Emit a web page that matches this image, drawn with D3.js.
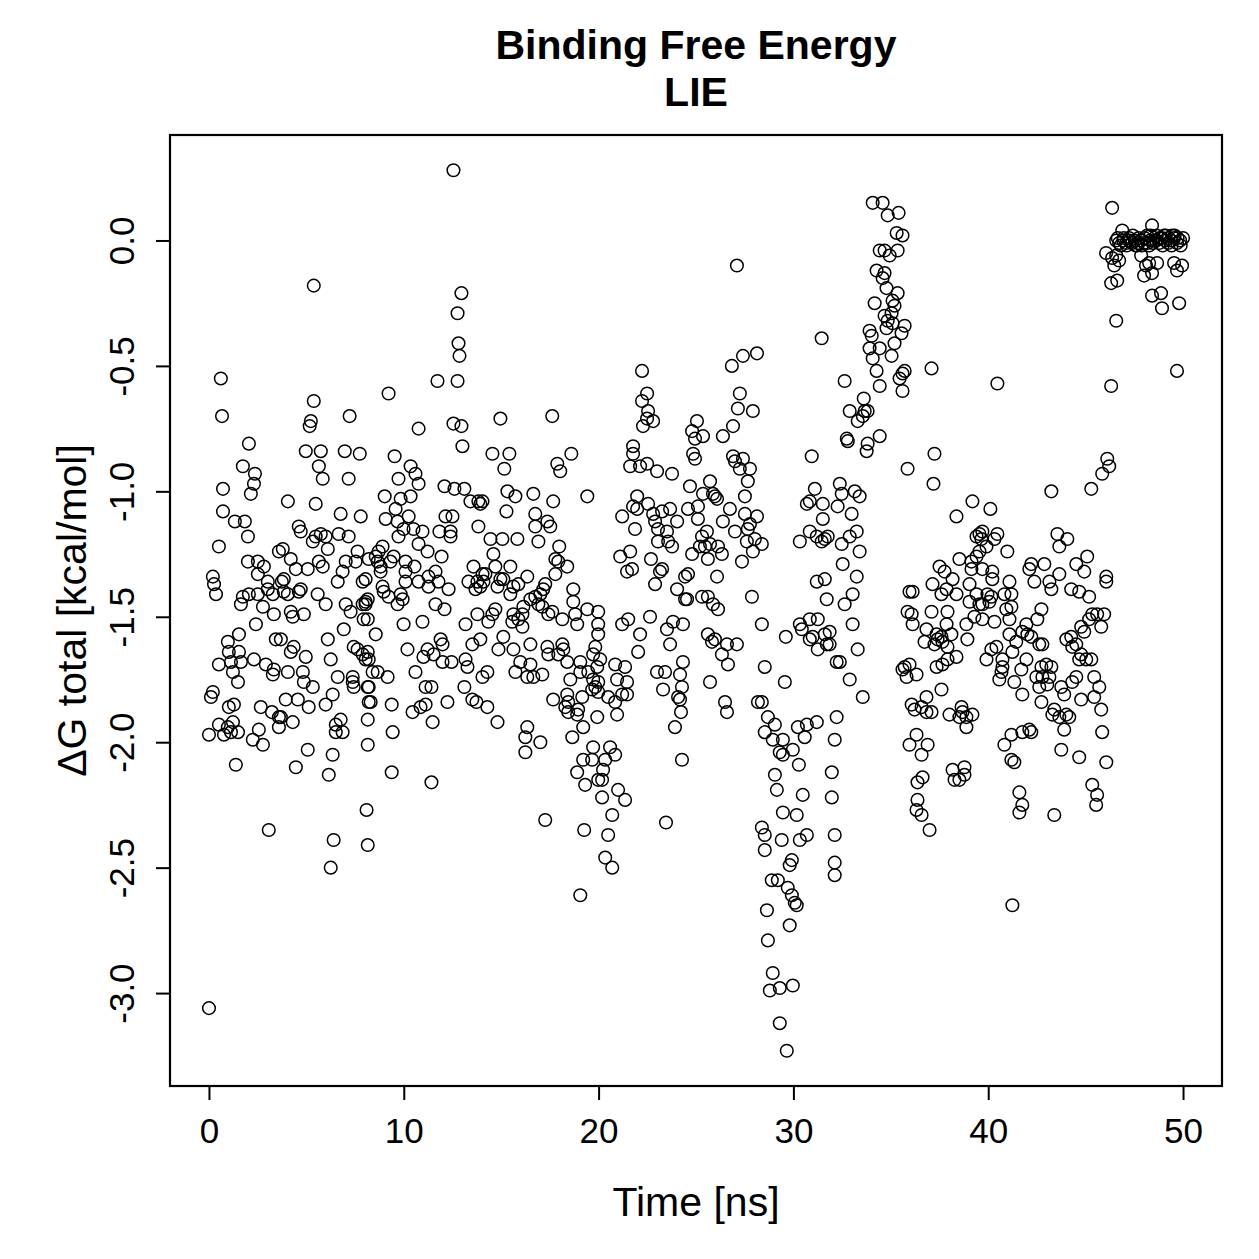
<!DOCTYPE html>
<html>
<head>
<meta charset="utf-8">
<script src="https://cdn.jsdelivr.net/npm/d3@7"></script>
<style>
  body { margin: 0; background: #fff; }
  text { font-family: "Liberation Sans", Arial, Helvetica, sans-serif; fill: #000; }
</style>
</head>
<body>
<svg id="chart" width="1259" height="1259"></svg>
<script>
const titleLines = ['Binding Free Energy', 'LIE'];
const xLabel = 'Time [ns]';
const yLabel = 'ΔG total [kcal/mol]';
const xTicks = [0, 10, 20, 30, 40, 50];
const yTicks = [0, -0.5, -1, -1.5, -2, -2.5, -3];

// [time ns, dG kcal/mol], grouped by time window

// ~0-4 ns
const seg0 = [[0.00,-3.06],[0.00,-1.97],[0.10,-1.82],[0.20,-1.80],[0.20,-1.34],[0.26,-1.37],[0.36,-1.41],[0.51,-1.22],[0.51,-1.69],[0.51,-1.93],[0.61,-0.55],[0.67,-0.70],[0.72,-0.99],[0.72,-1.08],[0.77,-1.97],[0.97,-1.60],[0.97,-1.94],[1.02,-1.64],[1.02,-1.86],[1.13,-1.68],[1.13,-1.96],[1.23,-1.72],[1.23,-1.92],[1.28,-1.85],[1.33,-1.12],[1.38,-2.09],[1.49,-1.76],[1.49,-1.96],[1.54,-1.57],[1.54,-1.64],[1.64,-1.45],[1.64,-1.68],[1.74,-0.90],[1.74,-1.42],[1.84,-1.12],[2.00,-1.18],[2.00,-1.28],[2.05,-0.81],[2.05,-1.41],[2.15,-1.01],[2.25,-1.99],[2.31,-0.97],[2.31,-1.67],[2.36,-0.93],[2.41,-1.53],[2.51,-1.28],[2.51,-1.33],[2.51,-1.41],[2.56,-1.95],[2.66,-1.86],[2.77,-1.46],[2.77,-2.01],[2.82,-1.30],[2.92,-1.69],[3.02,-1.36],[3.02,-1.39],[3.07,-2.35],[3.23,-1.88],[3.28,-1.41],[3.28,-1.73],[3.33,-1.49],[3.33,-1.71],[3.43,-1.59],[3.59,-1.24],[3.59,-1.90],[3.59,-1.94],[3.74,-1.36]];

// ~4-8 ns
const seg1 = [[5.38,-0.18],[5.38,-0.64],[5.23,-0.72],[5.17,-0.74],[7.22,-0.70],[4.97,-0.84],[5.74,-0.84],[6.97,-0.84],[7.74,-0.85],[5.64,-0.90],[5.84,-0.95],[7.17,-0.95],[4.05,-1.04],[5.48,-1.05],[6.76,-1.09],[7.79,-1.10],[4.61,-1.14],[4.71,-1.16],[5.48,-1.18],[5.74,-1.17],[5.99,-1.18],[5.33,-1.20],[6.66,-1.17],[7.17,-1.18],[6.10,-1.23],[3.79,-1.23],[4.20,-1.27],[5.64,-1.28],[5.84,-1.30],[4.46,-1.31],[5.07,-1.31],[7.63,-1.24],[7.53,-1.28],[6.86,-1.32],[7.02,-1.28],[8.20,-1.27],[6.61,-1.36],[7.89,-1.36],[3.84,-1.35],[3.84,-1.40],[4.05,-1.41],[4.71,-1.39],[4.61,-1.40],[5.58,-1.41],[5.99,-1.45],[7.02,-1.45],[7.27,-1.48],[7.89,-1.45],[8.04,-1.44],[4.20,-1.48],[4.30,-1.50],[4.87,-1.49],[7.94,-1.51],[6.92,-1.55],[6.10,-1.59],[3.69,-1.59],[4.35,-1.62],[4.20,-1.64],[7.43,-1.62],[7.63,-1.63],[4.97,-1.66],[6.25,-1.67],[7.89,-1.65],[8.04,-1.67],[4.82,-1.72],[4.05,-1.72],[6.61,-1.74],[7.38,-1.74],[7.38,-1.76],[7.43,-1.78],[4.87,-1.76],[5.33,-1.78],[8.15,-1.78],[3.94,-1.83],[4.56,-1.83],[5.12,-1.86],[5.99,-1.85],[6.35,-1.81],[8.20,-1.84],[3.69,-1.90],[4.30,-1.92],[6.51,-1.93],[6.76,-1.91],[6.51,-1.96],[6.86,-1.96],[8.15,-1.91],[5.07,-2.03],[6.35,-2.05],[4.46,-2.10],[6.15,-2.13],[8.15,-2.01],[8.09,-2.27],[6.40,-2.39],[8.15,-2.41],[6.25,-2.50]];

// ~8-14 ns
const seg2 = [[12.55,0.28],[12.96,-0.21],[12.76,-0.29],[12.81,-0.41],[12.86,-0.46],[9.22,-0.61],[11.73,-0.56],[12.76,-0.56],[10.76,-0.75],[12.55,-0.73],[12.96,-0.74],[13.01,-0.82],[9.53,-0.86],[10.35,-0.90],[10.60,-0.93],[10.76,-0.97],[9.73,-0.95],[12.09,-0.98],[12.60,-0.99],[13.11,-0.99],[9.02,-1.02],[9.84,-1.03],[9.58,-1.07],[10.35,-1.02],[13.42,-1.04],[13.83,-1.04],[13.93,-1.05],[9.07,-1.11],[9.68,-1.12],[9.99,-1.15],[9.73,-1.18],[10.25,-1.10],[10.50,-1.15],[10.96,-1.16],[12.14,-1.10],[12.50,-1.10],[11.83,-1.16],[12.40,-1.16],[12.40,-1.18],[13.83,-1.14],[8.91,-1.22],[8.71,-1.24],[8.56,-1.26],[8.66,-1.28],[8.81,-1.30],[9.32,-1.28],[10.76,-1.21],[11.22,-1.24],[11.94,-1.26],[9.48,-1.26],[10.09,-1.28],[10.55,-1.30],[10.09,-1.32],[8.81,-1.32],[13.58,-1.30],[14.04,-1.33],[11.63,-1.32],[11.27,-1.34],[10.76,-1.36],[10.09,-1.36],[11.27,-1.38],[11.78,-1.36],[12.30,-1.39],[13.32,-1.36],[13.78,-1.36],[13.68,-1.39],[13.93,-1.38],[8.04,-1.35],[8.91,-1.38],[8.97,-1.40],[9.22,-1.42],[9.68,-1.45],[9.84,-1.41],[9.94,-1.43],[8.15,-1.43],[8.04,-1.45],[11.63,-1.45],[12.09,-1.47],[13.78,-1.49],[9.99,-1.53],[10.96,-1.52],[8.15,-1.51],[13.17,-1.53],[8.56,-1.57],[11.89,-1.59],[11.99,-1.61],[13.52,-1.61],[13.93,-1.59],[10.19,-1.63],[11.22,-1.63],[11.01,-1.66],[11.53,-1.65],[11.99,-1.68],[12.45,-1.68],[13.17,-1.67],[13.27,-1.70],[8.15,-1.64],[8.20,-1.67],[8.40,-1.72],[8.66,-1.72],[9.17,-1.74],[10.60,-1.72],[14.04,-1.74],[8.20,-1.78],[11.12,-1.78],[11.42,-1.78],[13.11,-1.78],[13.52,-1.83],[13.73,-1.84],[8.30,-1.84],[9.38,-1.85],[10.45,-1.88],[10.86,-1.86],[11.12,-1.85],[12.24,-1.84],[11.48,-1.92],[9.43,-1.96],[9.38,-2.12],[11.42,-2.16]];

// ~14-20 ns
const seg3 = [[14.96,-0.71],[17.62,-0.70],[14.55,-0.85],[15.42,-0.85],[15.16,-0.91],[17.88,-0.89],[18.03,-0.92],[18.60,-0.85],[15.32,-1.00],[15.73,-1.02],[16.65,-1.01],[17.67,-1.04],[19.42,-1.02],[14.04,-1.04],[15.27,-1.08],[16.75,-1.09],[16.75,-1.14],[16.91,-1.20],[17.37,-1.12],[17.52,-1.14],[14.45,-1.19],[15.06,-1.19],[15.83,-1.19],[17.98,-1.22],[14.60,-1.25],[14.70,-1.30],[17.78,-1.27],[17.93,-1.28],[18.39,-1.30],[17.78,-1.33],[15.47,-1.30],[14.19,-1.33],[14.09,-1.36],[14.96,-1.35],[15.11,-1.35],[14.81,-1.38],[15.63,-1.38],[15.88,-1.37],[16.34,-1.34],[15.47,-1.41],[17.26,-1.37],[17.16,-1.39],[17.01,-1.41],[16.75,-1.42],[16.50,-1.43],[18.70,-1.39],[18.70,-1.44],[16.91,-1.45],[17.11,-1.46],[17.42,-1.49],[17.62,-1.48],[16.14,-1.46],[16.09,-1.49],[14.70,-1.47],[14.55,-1.49],[14.34,-1.52],[15.63,-1.49],[15.57,-1.52],[15.88,-1.51],[16.09,-1.54],[18.14,-1.51],[18.80,-1.49],[18.90,-1.53],[19.42,-1.47],[19.98,-1.48],[15.11,-1.58],[14.86,-1.63],[15.63,-1.63],[16.50,-1.61],[17.37,-1.62],[17.42,-1.65],[17.93,-1.65],[18.14,-1.61],[18.19,-1.63],[18.39,-1.68],[19.06,-1.68],[19.83,-1.62],[19.72,-1.65],[19.98,-1.57],[19.98,-1.53],[14.29,-1.72],[15.98,-1.68],[15.73,-1.72],[16.50,-1.69],[16.34,-1.74],[16.65,-1.74],[17.11,-1.73],[18.55,-1.75],[19.06,-1.72],[19.47,-1.72],[19.72,-1.75],[19.83,-1.78],[19.67,-1.79],[17.67,-1.83],[18.39,-1.81],[18.44,-1.84],[18.29,-1.86],[18.44,-1.88],[19.16,-1.82],[18.95,-1.87],[18.90,-1.89],[19.21,-1.94],[14.29,-1.86],[14.81,-1.92],[19.93,-1.90],[16.34,-1.94],[16.24,-1.98],[16.24,-2.04],[17.01,-2.00],[18.65,-1.98],[19.72,-2.02],[19.67,-2.07],[19.21,-2.07],[18.90,-2.12],[19.31,-2.17],[19.98,-2.15],[17.26,-2.31],[19.26,-2.35],[19.06,-2.61]];

// ~20-26 ns
const seg4 = [[22.23,-0.52],[22.49,-0.61],[22.23,-0.64],[22.54,-0.68],[22.49,-0.71],[22.80,-0.72],[22.28,-0.74],[25.05,-0.72],[24.80,-0.76],[24.95,-0.79],[25.36,-0.78],[21.77,-0.82],[21.77,-0.85],[21.62,-0.90],[22.13,-0.90],[22.49,-0.89],[23.00,-0.92],[23.77,-0.93],[24.85,-0.85],[24.95,-0.87],[24.69,-0.98],[25.72,-0.96],[25.36,-1.01],[25.87,-1.01],[21.98,-1.02],[21.77,-1.06],[21.98,-1.07],[21.21,-1.10],[22.54,-1.05],[22.80,-1.09],[23.26,-1.08],[23.67,-1.07],[24.59,-1.07],[25.10,-1.06],[25.10,-1.11],[24.03,-1.12],[22.90,-1.12],[23.05,-1.15],[23.51,-1.16],[21.87,-1.15],[25.56,-1.16],[25.31,-1.18],[25.20,-1.22],[25.46,-1.22],[25.72,-1.21],[25.61,-1.27],[23.05,-1.20],[23.57,-1.20],[23.77,-1.22],[24.80,-1.25],[21.62,-1.24],[21.11,-1.26],[21.46,-1.32],[21.72,-1.31],[22.69,-1.27],[23.26,-1.31],[23.15,-1.32],[22.90,-1.37],[24.59,-1.33],[24.44,-1.34],[24.03,-1.39],[24.44,-1.43],[24.54,-1.43],[25.31,-1.42],[25.61,-1.42],[25.87,-1.45],[21.52,-1.51],[21.21,-1.53],[22.64,-1.50],[22.13,-1.57],[23.82,-1.52],[24.33,-1.53],[23.51,-1.55],[25.61,-1.57],[25.82,-1.60],[22.03,-1.64],[23.67,-1.61],[20.08,-1.67],[19.93,-1.70],[20.85,-1.69],[21.36,-1.70],[20.95,-1.75],[21.46,-1.76],[21.21,-1.81],[21.46,-1.81],[20.85,-1.84],[20.49,-1.82],[20.95,-1.89],[23.00,-1.72],[23.41,-1.72],[24.33,-1.68],[23.31,-1.79],[24.18,-1.73],[24.28,-1.78],[24.08,-1.82],[24.18,-1.83],[24.23,-1.88],[19.98,-1.76],[19.98,-1.80],[25.72,-1.76],[23.92,-1.94],[20.59,-2.02],[20.85,-2.05],[20.34,-2.07],[20.23,-2.11],[20.18,-2.15],[21.00,-2.19],[21.36,-2.23],[20.70,-2.29],[20.18,-2.22],[24.28,-2.07],[23.46,-2.32],[20.49,-2.37],[20.34,-2.46],[20.70,-2.50]];

// ~26-32 ns, upper part
const seg5 = [[27.10,-0.10],[31.45,-0.39],[26.84,-0.50],[27.41,-0.46],[28.13,-0.45],[27.25,-0.61],[27.15,-0.67],[27.92,-0.68],[26.90,-0.74],[26.38,-0.78],[26.90,-0.86],[27.00,-0.88],[27.41,-0.87],[27.25,-0.91],[27.77,-0.91],[27.66,-0.96],[25.97,-1.02],[26.08,-1.03],[27.51,-1.02],[26.74,-1.07],[26.38,-1.12],[27.00,-1.16],[27.51,-1.09],[28.13,-1.10],[27.77,-1.13],[27.66,-1.15],[27.61,-1.20],[28.02,-1.19],[28.38,-1.21],[27.92,-1.24],[26.13,-1.22],[26.33,-1.25],[27.36,-1.28],[26.08,-1.34],[26.13,-1.47],[27.87,-1.42],[28.38,-1.53],[25.97,-1.59],[26.33,-1.65],[26.59,-1.61],[26.64,-1.69],[27.10,-1.61],[26.49,-1.84],[26.59,-1.88],[28.18,-1.84],[29.61,-1.58],[30.94,-0.86],[31.10,-0.99],[30.69,-1.05],[30.84,-1.04],[31.51,-1.05],[31.51,-1.11],[30.33,-1.20],[30.84,-1.16],[31.20,-1.18],[31.45,-1.20],[31.61,-1.19],[31.20,-1.36],[31.61,-1.35],[31.71,-1.43],[30.33,-1.53],[30.43,-1.55],[30.84,-1.51],[31.25,-1.51],[30.99,-1.58],[31.61,-1.57]];

// ~28-32 ns, the dip
const seg6 = [[30.84,-1.59],[31.25,-1.63],[31.71,-1.61],[31.86,-1.61],[28.53,-1.70],[29.56,-1.76],[32.22,-1.68],[28.38,-1.84],[28.69,-1.90],[29.05,-1.93],[28.53,-1.96],[28.94,-1.99],[29.46,-1.99],[29.30,-2.04],[29.46,-2.05],[29.97,-2.03],[30.23,-1.94],[30.69,-1.93],[31.20,-1.92],[30.58,-1.98],[32.22,-1.90],[32.12,-1.99],[29.05,-2.13],[29.15,-2.19],[30.28,-2.09],[30.48,-2.21],[31.97,-2.12],[31.97,-2.22],[29.46,-2.28],[30.17,-2.29],[28.38,-2.34],[28.53,-2.37],[28.53,-2.43],[29.40,-2.39],[30.33,-2.39],[30.69,-2.37],[32.12,-2.37],[29.92,-2.47],[29.81,-2.49],[32.12,-2.48],[32.12,-2.53],[28.89,-2.55],[29.20,-2.55],[29.71,-2.58],[29.92,-2.61],[30.07,-2.64],[30.17,-2.65],[28.64,-2.67],[29.81,-2.73],[28.69,-2.79],[28.94,-2.92],[28.79,-2.99],[29.30,-2.98],[29.97,-2.97],[29.30,-3.12],[29.66,-3.23]];

// ~32-36 ns, the rise
const seg7 = [[34.07,0.15],[34.58,0.15],[34.84,0.10],[35.40,0.11],[35.30,0.03],[35.60,0.02],[34.43,-0.04],[34.68,-0.04],[34.94,-0.06],[35.35,-0.04],[34.27,-0.12],[34.68,-0.13],[34.58,-0.15],[34.78,-0.19],[35.35,-0.21],[35.09,-0.24],[35.19,-0.26],[35.04,-0.29],[34.17,-0.25],[34.68,-0.30],[34.84,-0.32],[35.09,-0.33],[35.71,-0.34],[35.55,-0.37],[35.19,-0.41],[35.04,-0.46],[33.91,-0.36],[34.02,-0.38],[33.91,-0.43],[34.43,-0.43],[34.07,-0.47],[34.27,-0.52],[34.43,-0.58],[34.78,-0.35],[35.71,-0.52],[35.45,-0.55],[35.60,-0.60],[32.63,-0.56],[33.61,-0.63],[32.89,-0.68],[33.30,-0.72],[33.66,-0.68],[33.81,-0.68],[33.56,-0.70],[32.74,-0.79],[32.79,-0.80],[33.81,-0.81],[33.76,-0.84],[34.43,-0.78],[35.86,-0.91],[32.38,-0.97],[32.48,-1.01],[33.15,-1.00],[33.40,-1.02],[32.27,-1.06],[32.99,-1.09],[31.76,-1.18],[32.48,-1.21],[32.89,-1.18],[33.25,-1.16],[33.40,-1.24],[32.53,-1.29],[33.25,-1.34],[33.04,-1.41],[32.63,-1.45],[35.96,-1.40],[35.86,-1.48],[36.07,-1.49],[33.04,-1.53],[31.86,-1.56],[33.30,-1.63],[32.38,-1.68],[32.89,-1.75],[33.56,-1.82],[35.71,-1.70],[35.96,-1.69],[35.81,-1.74]];

// ~36-41 ns
const seg8 = [[35.60,-0.53],[37.09,-0.51],[40.47,-0.57],[37.24,-0.85],[37.19,-0.97],[39.19,-1.04],[40.11,-1.07],[38.37,-1.10],[39.70,-1.16],[39.55,-1.17],[39.40,-1.18],[39.65,-1.19],[40.47,-1.17],[40.32,-1.19],[39.91,-1.22],[40.98,-1.24],[39.55,-1.24],[39.40,-1.26],[39.14,-1.28],[39.14,-1.31],[39.70,-1.31],[40.21,-1.32],[40.21,-1.35],[38.52,-1.27],[37.50,-1.30],[37.76,-1.32],[38.17,-1.35],[37.14,-1.37],[37.60,-1.41],[37.86,-1.39],[38.37,-1.41],[39.04,-1.37],[39.40,-1.41],[39.04,-1.44],[39.96,-1.41],[40.16,-1.42],[39.70,-1.45],[40.06,-1.44],[39.55,-1.45],[36.12,-1.40],[40.83,-1.41],[41.09,-1.36],[40.93,-1.47],[37.09,-1.48],[37.91,-1.48],[36.12,-1.53],[36.83,-1.55],[37.86,-1.53],[37.35,-1.57],[37.60,-1.58],[38.11,-1.57],[38.88,-1.53],[39.29,-1.50],[39.70,-1.51],[40.32,-1.52],[41.09,-1.51],[41.09,-1.57],[36.73,-1.60],[37.24,-1.61],[37.40,-1.59],[37.65,-1.60],[37.91,-1.62],[38.93,-1.59],[40.42,-1.62],[40.16,-1.63],[39.91,-1.67],[38.37,-1.66],[37.91,-1.67],[37.65,-1.69],[37.35,-1.70],[40.73,-1.67],[40.73,-1.70],[40.68,-1.72],[40.57,-1.75],[35.60,-1.71],[36.32,-1.73],[37.60,-1.79],[36.83,-1.82],[36.07,-1.85],[36.22,-1.87],[36.58,-1.86],[36.83,-1.88],[37.09,-1.88],[38.01,-1.89],[38.63,-1.86],[38.68,-1.88],[38.52,-1.90],[38.88,-1.90],[39.19,-1.89],[38.88,-1.94],[36.32,-1.97],[35.96,-2.01],[36.89,-2.01],[36.58,-2.05],[40.83,-2.01],[38.17,-2.11],[38.78,-2.10],[38.78,-2.13],[38.52,-2.15],[38.27,-2.15],[36.63,-2.14],[36.37,-2.16],[36.37,-2.23],[36.32,-2.27],[36.58,-2.29],[36.99,-2.35]];

// ~41-46 ns
const seg9 = [[46.11,-0.87],[46.21,-0.90],[45.85,-0.93],[45.29,-0.99],[43.24,-1.00],[43.55,-1.17],[44.06,-1.19],[43.65,-1.22],[45.08,-1.26],[44.52,-1.29],[44.93,-1.32],[46.06,-1.34],[46.06,-1.36],[42.21,-1.29],[42.11,-1.31],[42.88,-1.29],[42.37,-1.36],[43.14,-1.36],[43.65,-1.33],[43.24,-1.39],[41.19,-1.41],[41.19,-1.46],[44.26,-1.39],[44.67,-1.40],[45.18,-1.42],[42.73,-1.47],[42.52,-1.51],[41.96,-1.53],[41.75,-1.56],[45.34,-1.49],[45.59,-1.49],[45.95,-1.49],[45.80,-1.54],[45.18,-1.51],[44.77,-1.54],[44.93,-1.56],[42.01,-1.57],[42.21,-1.58],[42.62,-1.61],[42.78,-1.61],[41.44,-1.60],[41.24,-1.64],[44.01,-1.59],[44.26,-1.58],[44.31,-1.62],[44.52,-1.61],[44.77,-1.65],[45.03,-1.67],[45.29,-1.67],[44.67,-1.67],[41.96,-1.67],[41.70,-1.71],[42.73,-1.70],[42.98,-1.69],[43.24,-1.70],[42.47,-1.74],[42.78,-1.74],[43.14,-1.74],[42.62,-1.78],[43.03,-1.77],[41.34,-1.76],[41.75,-1.81],[43.75,-1.78],[43.90,-1.81],[44.31,-1.76],[44.52,-1.74],[45.44,-1.74],[45.70,-1.78],[45.44,-1.82],[45.80,-1.87],[44.77,-1.83],[42.73,-1.84],[43.39,-1.87],[43.29,-1.89],[43.65,-1.90],[44.01,-1.89],[44.16,-1.90],[43.90,-1.95],[41.19,-1.97],[41.75,-1.96],[42.11,-1.95],[42.21,-1.96],[45.85,-1.96],[41.19,-2.07],[41.34,-2.08],[43.75,-2.03],[44.67,-2.06],[46.06,-2.08],[45.34,-2.17],[45.59,-2.21],[45.54,-2.25],[41.60,-2.20],[41.75,-2.25],[41.60,-2.28],[43.39,-2.29],[41.24,-2.65]];

// ~46-50 ns, the plateau near zero
const seg10 = [[46.36,0.13],[46.88,0.04],[48.41,0.06],[49.44,0.02],[46.57,0.00],[46.72,-0.01],[46.93,0.00],[47.08,-0.01],[47.23,0.01],[47.39,-0.01],[47.54,0.00],[47.69,-0.01],[47.85,0.00],[48.00,-0.01],[48.16,0.02],[48.31,0.00],[48.46,-0.01],[48.62,0.00],[48.77,-0.01],[48.92,0.01],[49.08,0.00],[49.23,-0.01],[49.39,0.00],[49.54,0.01],[49.69,-0.01],[49.85,0.00],[50.00,0.01],[47.64,-0.02],[48.26,-0.02],[49.03,0.02],[46.65,0.01],[46.80,-0.02],[46.96,0.01],[47.11,-0.02],[47.26,0.00],[47.42,0.02],[47.57,-0.02],[47.72,0.01],[47.88,-0.02],[48.03,0.01],[48.18,-0.01],[48.34,0.02],[48.49,0.00],[48.64,0.02],[48.80,0.01],[48.95,-0.02],[49.11,0.02],[49.26,0.01],[49.41,-0.02],[49.57,0.02],[49.72,0.01],[49.88,-0.02],[46.05,-0.05],[46.57,-0.06],[46.36,-0.07],[46.72,-0.08],[46.47,-0.10],[47.85,-0.06],[48.10,-0.10],[48.26,-0.09],[48.67,-0.09],[48.41,-0.13],[48.00,-0.14],[49.54,-0.09],[49.69,-0.12],[49.95,-0.10],[46.31,-0.17],[46.62,-0.16],[48.41,-0.22],[48.87,-0.21],[48.92,-0.27],[49.80,-0.25],[46.57,-0.32],[49.69,-0.52],[46.31,-0.58]];

const points = [].concat(seg0, seg1, seg2, seg3, seg4, seg5, seg6, seg7, seg8, seg9, seg10);

const svg = d3.select('#chart');
const box = { left: 170, right: 1222, top: 135, bottom: 1086 };
const midX = (box.left + box.right) / 2;

// R pads the data range by 4% on each side
const pad = ([a, b]) => [a - (b - a) * 0.04, b + (b - a) * 0.04];

const x = d3.scaleLinear()
  .domain(pad(d3.extent(points, d => d[0])))
  .range([box.left, box.right]);
const y = d3.scaleLinear()
  .domain(pad(d3.extent(points, d => d[1])))
  .range([box.bottom, box.top]);

svg.append('rect').attr('width', 1259).attr('height', 1259).attr('fill', '#fff');

// points, open circles like pch = 1
svg.append('g')
  .selectAll('circle')
  .data(points)
  .join('circle')
    .attr('cx', d => x(d[0]))
    .attr('cy', d => y(d[1]))
    .attr('r', 6.3)
    .attr('fill', 'none')
    .attr('stroke', '#000')
    .attr('stroke-width', 1.5);

// frame
svg.append('rect')
  .attr('x', box.left).attr('y', box.top)
  .attr('width', box.right - box.left).attr('height', box.bottom - box.top)
  .attr('fill', 'none').attr('stroke', '#000').attr('stroke-width', 2.2);

// x axis
const xAxis = svg.append('g')
  .attr('transform', `translate(0,${box.bottom})`)
  .call(d3.axisBottom(x).tickValues(xTicks).tickSize(14).tickFormat(d3.format('d')));
xAxis.select('.domain').remove();
xAxis.selectAll('line').attr('stroke', '#000').attr('stroke-width', 2);
xAxis.selectAll('text')
  .attr('y', 57).attr('dy', 0)
  .attr('font-size', 35).attr('fill', '#000')
  .style('font-family', '"Liberation Sans", Arial, sans-serif');

// y axis, labels turned like R's las = 0
const yAxis = svg.append('g')
  .attr('transform', `translate(${box.left},0)`)
  .call(d3.axisLeft(y).tickValues(yTicks).tickSize(14).tickFormat(d => d.toFixed(1)));
yAxis.select('.domain').remove();
yAxis.selectAll('line').attr('stroke', '#000').attr('stroke-width', 2);
yAxis.selectAll('text')
  .attr('transform', 'rotate(-90)')
  .attr('x', 0).attr('y', -36).attr('dy', 0)
  .attr('text-anchor', 'middle')
  .attr('font-size', 35).attr('fill', '#000')
  .style('font-family', '"Liberation Sans", Arial, sans-serif');

// axis titles
svg.append('text')
  .attr('x', midX).attr('y', 1216)
  .attr('text-anchor', 'middle')
  .attr('font-size', 41)
  .text(xLabel);

svg.append('text')
  .attr('transform', `translate(86,${(box.top + box.bottom) / 2}) rotate(-90)`)
  .attr('text-anchor', 'middle')
  .attr('font-size', 41)
  .text(yLabel);

// main title, two lines
svg.append('g')
  .selectAll('text')
  .data(titleLines)
  .join('text')
    .attr('x', midX)
    .attr('y', (d, i) => 59 + i * 47)
    .attr('text-anchor', 'middle')
    .attr('font-size', 41)
    .attr('font-weight', 'bold')
    .text(d => d);
</script>
</body>
</html>
